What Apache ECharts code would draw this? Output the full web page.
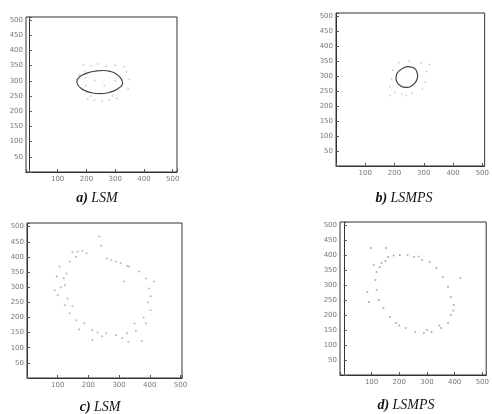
<!DOCTYPE html>
<html>
<head>
<meta charset="utf-8">
<style>
    html, body { margin: 0; padding: 0; background: #fff; }
    #chart { width: 492px; height: 414px; }
</style>
<script src="https://cdn.jsdelivr.net/npm/echarts@6/dist/echarts.min.js"></script>
</head>
<body>
<div id="chart"></div>
<script>
    // panel captions
    var panelTags = ['a)', 'b)', 'c)', 'd)'];
    var panelNames = ['LSM', 'LSMPS', 'LSM', 'LSMPS'];

    // a) LSM - fitted ellipse + faint data dots
    var fitA = [[326,293],[320,308],[305,322],[283,331],[258,334],[232,332],[207,327],[186,319],[172,309],[167,299],
        [170,287],[182,275],[200,266],[222,260],[247,258],[272,260],[296,267],[314,277],[324,286],[326,293]];
    var ptsA = [[190,352],[215,350],[240,355],[270,349],[300,351],[330,346],[195,330],[196,310],[198,285],[200,262],
        [205,240],[228,236],[255,232],[280,238],[305,243],[340,330],[350,305],[345,275],[228,300],[262,285],
        [300,300],[175,320],[215,250],[290,250]];

    // b) LSMPS - fitted ellipse + faint data dots
    var fitB = [[277,310],[272,322],[260,329],[246,331],[231,327],[217,318],[207,305],[205,292],[209,279],[218,269],
        [230,263],[244,262],[258,267],[270,277],[277,290],[279,301],[277,310]];
    var ptsB = [[215,345],[250,350],[290,343],[320,338],[195,320],[190,290],[185,265],[200,245],[225,240],[260,242],
        [295,255],[305,280],[310,315],[240,235],[185,235],[220,320]];

    // c) LSM - noisy points
    var ptsC = [[235,467],[242,437],[148,415],[165,418],[180,420],[194,412],[261,395],[275,390],[290,385],[305,380],
        [326,370],[332,368],[106,368],[139,385],[97,335],[129,345],[90,290],[123,306],[100,273],[132,263],
        [123,240],[148,237],[139,214],[161,191],[187,181],[213,158],[245,138],[258,148],[290,141],[310,132],
        [326,148],[355,155],[374,122],[387,181],[403,224],[403,270],[397,296],[413,319],[387,329],[365,352],
        [316,319],[213,125],[120,330],[110,300],[350,180],[380,200],[395,250],[170,160],[230,150],[160,400],[330,120]];

    // d) LSMPS - noisy points
    var ptsD = [[160,393],[180,398],[202,400],[230,400],[254,393],[282,383],[310,377],[334,357],[358,327],[376,293],
        [386,260],[397,233],[386,200],[376,173],[351,157],[317,143],[289,140],[258,143],[223,157],[188,173],
        [167,193],[143,223],[126,250],[118,283],[114,317],[118,343],[108,367],[136,373],[90,243],[84,277],
        [421,323],[97,423],[152,423],[300,150],[200,165],[130,360],[395,215],[345,165],[150,380],[270,395]];

    var grids = [
        {left: 26, top: 17, width: 151, height: 155},
        {left: 336, top: 13, width: 155, height: 153},
        {left: 27, top: 223, width: 155, height: 155},
        {left: 340, top: 222, width: 152, height: 153}
    ];
    var xRanges = [[-10, 515], [0, 508], [0, 505], [-14, 514]];
    var yRanges = [[0, 510], [0, 510], [0, 512], [0, 510]];
    var captionPos = [[97, 198], [404, 198], [100, 407], [406, 405]];

    var labelStyle = {fontSize: 7, color: '#777', fontFamily: 'DejaVu Sans'};
    var xAxes = [], yAxes = [];
    for (var i = 0; i < 4; i++) {
        grids[i].show = true;
        grids[i].borderColor = '#333';
        grids[i].borderWidth = 1;
        xAxes.push({
            type: 'value', gridIndex: i, min: xRanges[i][0], max: xRanges[i][1], splitNumber: 5,
            axisLine: {lineStyle: {color: '#333'}},
            axisTick: {inside: true, length: 3, lineStyle: {color: '#555'}},
            splitLine: {show: false},
            axisLabel: Object.assign({margin: 4, formatter: function(v){ return (v > 0 && v % 100 === 0) ? v : ''; }}, labelStyle)
        });
        yAxes.push({
            type: 'value', gridIndex: i, min: yRanges[i][0], max: yRanges[i][1], interval: 50,
            axisLine: {lineStyle: {color: '#333'}},
            axisTick: {inside: true, length: 3, lineStyle: {color: '#555'}},
            splitLine: {show: false},
            axisLabel: Object.assign({margin: 3, formatter: function(v){ return (v > 0 && v % 50 === 0 && v <= 500) ? v : ''; }}, labelStyle)
        });
    }

    var series = [
        {type: 'scatter', xAxisIndex: 0, yAxisIndex: 0, data: ptsA, symbolSize: 2, itemStyle: {color: '#c8c8c8'}},
        {type: 'line', xAxisIndex: 0, yAxisIndex: 0, data: fitA, smooth: true, symbol: 'none', lineStyle: {color: '#444', width: 1.2}},
        {type: 'scatter', xAxisIndex: 1, yAxisIndex: 1, data: ptsB, symbolSize: 2, itemStyle: {color: '#c8c8c8'}},
        {type: 'line', xAxisIndex: 1, yAxisIndex: 1, data: fitB, smooth: true, symbol: 'none', lineStyle: {color: '#444', width: 1.2}},
        {type: 'scatter', xAxisIndex: 2, yAxisIndex: 2, data: ptsC, symbolSize: 2, itemStyle: {color: '#a8a8a8'}},
        {type: 'scatter', xAxisIndex: 3, yAxisIndex: 3, data: ptsD, symbolSize: 2, itemStyle: {color: '#999'}}
    ];

    var captions = [];
    for (var k = 0; k < 4; k++) {
        captions.push({
            type: 'text', x: captionPos[k][0], y: captionPos[k][1],
            style: {
                text: '{t|' + panelTags[k] + '} {n|' + panelNames[k] + '}',
                textAlign: 'center', textVerticalAlign: 'middle',
                rich: {
                    t: {fontFamily: 'Liberation Serif', fontSize: 14, fontStyle: 'italic', fontWeight: 'bold', fill: '#111'},
                    n: {fontFamily: 'Liberation Serif', fontSize: 14, fontStyle: 'italic', fill: '#111'}
                }
            }
        });
    }

    var chart = echarts.init(document.getElementById('chart'), null, {renderer: 'canvas'});
    chart.setOption({
        animation: false,
        backgroundColor: '#fff',
        grid: grids,
        xAxis: xAxes,
        yAxis: yAxes,
        series: series,
        graphic: captions
    });
</script>
</body>
</html>
